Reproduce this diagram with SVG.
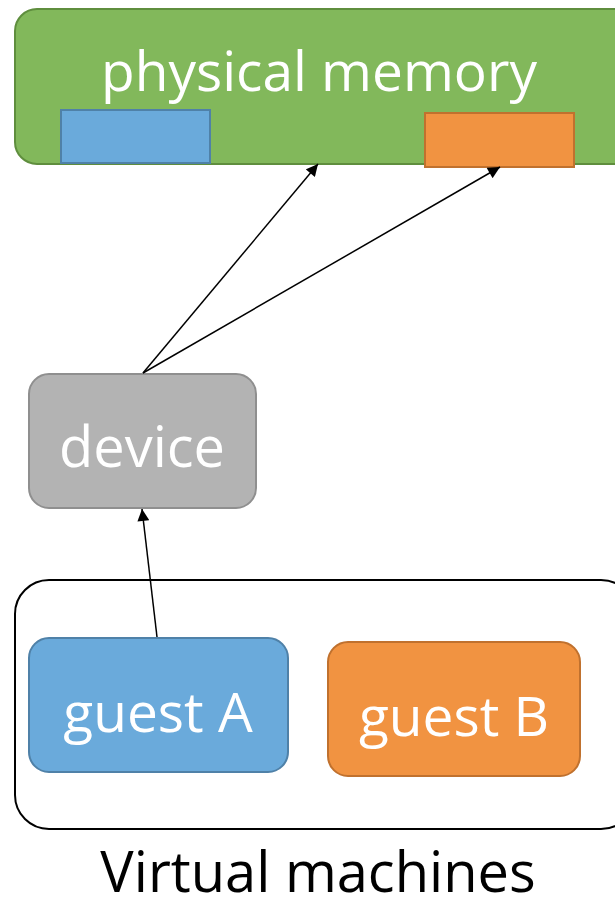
<svg xmlns="http://www.w3.org/2000/svg" width="615" height="904" viewBox="0 0 615 904">
  <defs>
    <marker id="arrow" viewBox="0 0 10 10" refX="10" refY="5" markerWidth="14" markerHeight="12" markerUnits="userSpaceOnUse" orient="auto">
      <path d="M0,0 L10,5 L0,10 z" fill="#000"/>
    </marker>
    <style>
      .label { font-family: "Open Sans", "Liberation Sans", sans-serif; fill: #fff; text-anchor: middle; }
      .caption { font-family: "Open Sans", "Liberation Sans", sans-serif; fill: #000; text-anchor: middle; }
      .edge { stroke: #000; stroke-width: 1.5; fill: none; marker-end: url(#arrow); }
      .blue { fill: #6aaadb; stroke: #4f81a8; stroke-width: 2; }
      .orange { fill: #f19341; stroke: #c0712e; stroke-width: 2; }
    </style>
  </defs>
  <rect width="615" height="904" fill="#fff"/>

  <g id="physical-memory">
    <rect x="15" y="9" width="620" height="155" rx="22" fill="#82b85b" stroke="#5f8e3e" stroke-width="2"/>
    <text class="label" x="319" y="91" font-size="55">physical memory</text>
    <rect class="blue" x="61" y="110" width="149" height="53"/>
    <rect class="orange" x="425" y="113" width="149" height="54"/>
  </g>

  <g id="device">
    <rect x="29" y="374" width="227" height="134" rx="20" fill="#b3b3b3" stroke="#8f8f8f" stroke-width="2"/>
    <text class="label" x="142" y="467" font-size="56">device</text>
  </g>

  <g id="virtual-machines">
    <rect x="15" y="580" width="620" height="249" rx="34" fill="#fff" stroke="#000" stroke-width="2"/>
    <text class="caption" x="318" y="892" font-size="56">Virtual machines</text>
  </g>

  <g id="guest-a">
    <rect class="blue" x="29" y="638" width="259" height="134" rx="20"/>
    <text class="label" x="158" y="732" font-size="55">guest A</text>
  </g>

  <g id="guest-b">
    <rect class="orange" x="328" y="642" width="252" height="134" rx="20"/>
    <text class="label" x="454" y="736" font-size="55">guest B</text>
  </g>

  <g id="connectors">
    <line class="edge" x1="143" y1="373" x2="318" y2="164"/>
    <line class="edge" x1="143" y1="373" x2="500" y2="167"/>
    <line class="edge" x1="157" y1="637" x2="142" y2="509"/>
  </g>
</svg>
